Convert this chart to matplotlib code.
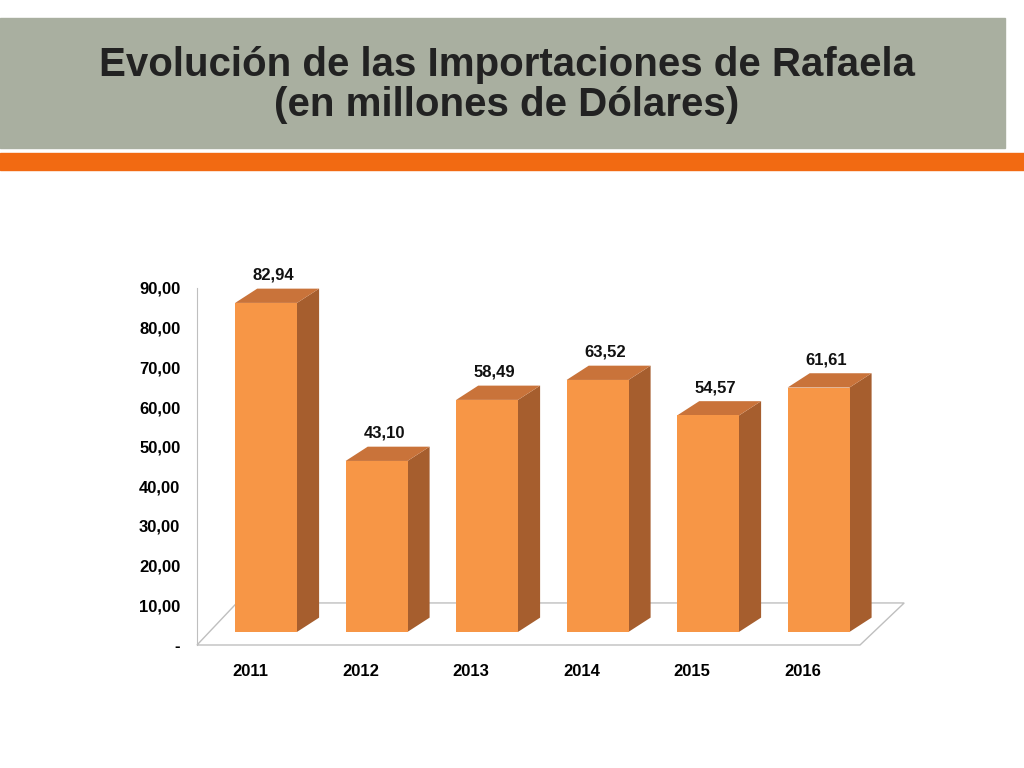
import matplotlib
matplotlib.use("Agg")
import matplotlib.pyplot as plt
from matplotlib.patches import Polygon, Rectangle

years = ["2011", "2012", "2013", "2014", "2015", "2016"]
values = [82.94, 43.10, 58.49, 63.52, 54.57, 61.61]
yticks = [0, 10, 20, 30, 40, 50, 60, 70, 80, 90]
ytick_labels = ["-", "10,00", "20,00", "30,00", "40,00", "50,00", "60,00", "70,00", "80,00", "90,00"]

FRONT, SIDE, TOP = "#f79646", "#a65e2e", "#c9733a"
plt.rcParams["font.family"] = "Liberation Sans"

fig = plt.figure(figsize=(10.24, 7.68), dpi=100)

# header band and orange stripe
fig.patches.append(Rectangle((0, 1 - 148 / 768), 1005 / 1024, 130 / 768,
                             transform=fig.transFigure, color="#a9afa0", zorder=0))
fig.patches.append(Rectangle((0, 1 - 170 / 768), 1, 17 / 768,
                             transform=fig.transFigure, color="#f26a12", zorder=0))
fig.text(0.495, 1 - 85 / 768, "Evolución de las Importaciones de Rafaela\n(en millones de Dólares)",
         ha="center", va="center", fontsize=29, fontweight="bold", color="#222222",
         linespacing=1.1)

ax = fig.add_axes([197 / 1024, 1 - 645 / 768, 663 / 1024, 357 / 768])
ax.set_xlim(0, 6)
ax.set_ylim(0, 90)
for s in ["top", "right", "bottom"]:
    ax.spines[s].set_visible(False)
ax.spines["left"].set_color("#bfbfbf")
ax.set_yticks(yticks)
ax.set_yticklabels(ytick_labels, fontsize=12, fontweight="bold")
ax.set_xticks([i + 0.48 for i in range(len(years))])
ax.set_xticklabels(years, fontsize=12, fontweight="bold")
ax.tick_params(length=0, pad=12)
ax.tick_params(axis="x", pad=14)

# floor
ax.add_patch(Polygon([(0, 0), (6, 0), (6.4, 10.6), (0.36, 10.6)], closed=True,
                     facecolor="white", edgecolor="#bfbfbf", lw=1, clip_on=False, zorder=1))

base, w, dx, dy = 3.3, 0.56, 0.2, 3.6
for i, v in enumerate(values):
    x0 = i + 0.345
    top = base + v
    ax.add_patch(Polygon([(x0 + w, base), (x0 + w + dx, base + dy), (x0 + w + dx, top + dy), (x0 + w, top)],
                         facecolor=SIDE, edgecolor="none", clip_on=False, zorder=2))
    ax.add_patch(Polygon([(x0, top), (x0 + dx, top + dy), (x0 + w + dx, top + dy), (x0 + w, top)],
                         facecolor=TOP, edgecolor="none", clip_on=False, zorder=2))
    ax.add_patch(Rectangle((x0, base), w, v, facecolor=FRONT, edgecolor="none",
                           clip_on=False, zorder=3))
    ax.text(x0 + w / 2 + 0.07, top + dy + 1.5, f"{v:.2f}".replace(".", ","),
            ha="center", va="bottom", fontsize=12, fontweight="bold", color="#111111")

fig.savefig("out.png", dpi=100)
